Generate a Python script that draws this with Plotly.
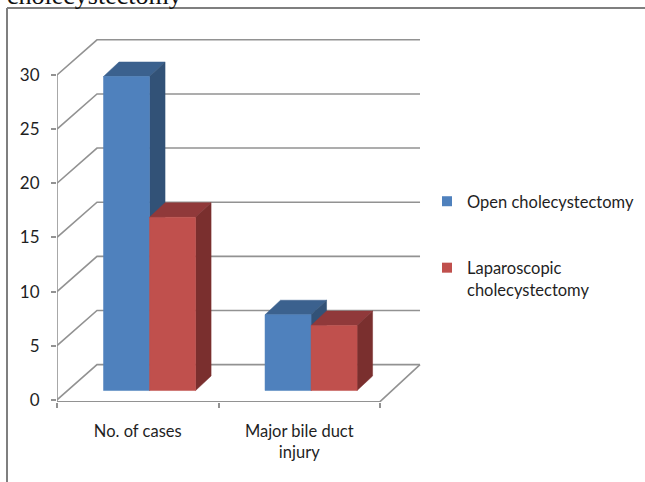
import plotly.graph_objects as go

categories = ["No. of cases", "Major bile duct<br>injury"]
open_chole = [29, 7]
lap_chole = [16, 6]
y_ticks = [0, 5, 10, 15, 20, 25, 30]
series_names = ["Open cholecystectomy", "Laparoscopic<br>cholecystectomy"]
title_text = "cholecystectomy"

GRID = "#929292"
TXT = "#1f1f1f"
FONT = "Lato"

# pseudo-3D projection, in axis units
WALL_DX, WALL_DY = 0.2477, 3.25
BAR_DX, BAR_DY = 0.073, 0.86
FACE_DX, FACE_DY = 0.096, 1.34
BAR_W = 0.285
FLOOR_Y = -0.17
X_RANGE = [0, 2.26]
Y_RANGE = [-0.2, 33.6]

# plot-area box in page pixels
L, R, T, B = 57, 422, 36, 402


def px(x):
    return (x - L) / (R - L)


def py(y):
    return (B - y) / (B - T)


fig = go.Figure()


def poly(xs, ys, color):
    fig.add_trace(go.Scatter(x=xs, y=ys, mode="lines", fill="toself", fillcolor=color,
                             line=dict(color=color, width=0.5),
                             showlegend=False, hoverinfo="skip"))


def line(xs, ys, width=1.6):
    fig.add_trace(go.Scatter(x=xs, y=ys, mode="lines", line=dict(color=GRID, width=width),
                             showlegend=False, hoverinfo="skip"))


# back wall grid
for v in y_ticks:
    line([0, WALL_DX, 2 + WALL_DX], [v, v + WALL_DY, v + WALL_DY])
# floor front + right edge, axis lines
line([0, 2, 2 + WALL_DX], [FLOOR_Y, FLOOR_Y, WALL_DY])
line([0, 0], [FLOOR_Y, y_ticks[-1]])

colors = [("#4f81bd", "#3b618e", "#325277"), ("#c0504d", "#90393a", "#7a2f2e")]
for i in range(len(categories)):
    for s, vals in enumerate([open_chole, lap_chole]):
        front, top, side = colors[s]
        x0 = i + 0.5 + BAR_DX + (s - 1) * BAR_W
        x1 = x0 + BAR_W
        b = BAR_DY
        t = BAR_DY + vals[i]
        poly([x0, x0 + FACE_DX, x1 + FACE_DX, x1, x0], [t, t + FACE_DY, t + FACE_DY, t, t], top)
        poly([x1, x1 + FACE_DX, x1 + FACE_DX, x1, x1], [t, t + FACE_DY, b + FACE_DY, b, t], side)
        poly([x0, x1, x1, x0, x0], [b, b, t, t, b], front)

# legend entries
for name, c in zip(series_names, ["#4f81bd", "#c0504d"]):
    fig.add_trace(go.Scatter(x=[None], y=[None], mode="markers", name=name, legendgroup=name,
                             marker=dict(symbol="square", size=10, color=c)))

fig.update_layout(
    width=645, height=482,
    margin=dict(l=L, r=645 - R, t=T, b=482 - B, autoexpand=False),
    paper_bgcolor="white", plot_bgcolor="rgba(0,0,0,0)",
    font=dict(family=FONT, size=16.5, color=TXT),
    xaxis=dict(range=X_RANGE, tickmode="array", tickvals=[0.5, 1.5], ticktext=categories,
               ticks="", showgrid=False, zeroline=False, showline=False,
               ticklabelstandoff=17,
               tickfont=dict(family=FONT, size=16.5, color=TXT),
               minor=dict(tickmode="array", tickvals=[0, 1, 2], ticks="outside", ticklen=5,
                          tickcolor=GRID, tickwidth=1.5, showgrid=False)),
    yaxis=dict(range=Y_RANGE, tickmode="array", tickvals=y_ticks, ticks="outside", ticklen=5,
               tickcolor=GRID, tickwidth=1.5, showgrid=False, zeroline=False, showline=False,
               ticklabelstandoff=8,
               tickfont=dict(family=FONT, size=17, color=TXT)),
    legend=dict(xref="container", yref="container", x=427 / 645, y=1 - 184 / 482,
                xanchor="left", yanchor="top", tracegroupgap=42, valign="top",
                font=dict(family=FONT, size=16.5, color=TXT), bgcolor="rgba(0,0,0,0)"),
    shapes=[
        dict(type="line", xref="paper", yref="paper", x0=px(7), x1=px(645), y0=py(8), y1=py(8),
             line=dict(color="#7f7f7f", width=2)),
        dict(type="line", xref="paper", yref="paper", x0=px(7), x1=px(7), y0=py(8), y1=py(482),
             line=dict(color="#7f7f7f", width=2)),
    ],
    annotations=[dict(text=title_text, xref="paper", yref="paper", x=px(5), y=py(8),
                      xanchor="left", yanchor="bottom", yshift=-4, showarrow=False,
                      font=dict(family="Liberation Serif", size=26, color="#111111"))],
)

fig.write_html("out.html", config={"displayModeBar": False},
               post_script="document.body.style.margin='0';")
